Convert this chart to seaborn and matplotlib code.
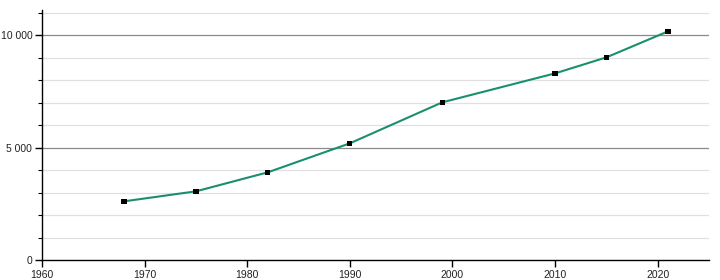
import matplotlib
matplotlib.use("Agg")
import matplotlib.pyplot as plt
import seaborn as sns
import pandas as pd
from matplotlib.ticker import MultipleLocator, FuncFormatter

years = [1968, 1975, 1982, 1990, 1999, 2010, 2015, 2021]
population = [2612, 3057, 3903, 5194, 7018, 8309, 9021, 10178]
x_ticks = [1960, 1970, 1980, 1990, 2000, 2010, 2020]
y_ticks = [0, 5000, 10000]

df = pd.DataFrame({"year": years, "population": population})

sns.set_theme(style="white")
plt.rcParams['font.family'] = ['Liberation Sans', 'DejaVu Sans']

fig = plt.figure(figsize=(7.2, 2.8), dpi=100)
ax = fig.add_axes([42/720, 20/280, (709-42)/720, 250/280])

for v in range(1000, 11001, 1000):
    if v % 5000 == 0:
        ax.axhline(v, color="#8a8a8a", lw=0.9, zorder=1)
    else:
        ax.axhline(v, color="#e0e0e0", lw=0.9, zorder=1)

sns.lineplot(data=df, x="year", y="population", ax=ax, color="#1a8f6f",
             lw=1.5, zorder=3)
sns.scatterplot(data=df, x="year", y="population", ax=ax, color="black",
                marker="s", s=14, edgecolor="none", zorder=4)

ax.set_xlim(1960, 2025)
ax.set_ylim(0, 11130)
ax.set_xticks(x_ticks)
ax.set_yticks(y_ticks)
ax.yaxis.set_minor_locator(MultipleLocator(1000))
ax.yaxis.set_major_formatter(FuncFormatter(lambda v, p: f"{int(v):,}".replace(",", " ")))
ax.set_xlabel("")
ax.set_ylabel("")

for s in ["top", "right"]:
    ax.spines[s].set_visible(False)
for s in ["left", "bottom"]:
    ax.spines[s].set_visible(True)
    ax.spines[s].set_color("black")
    ax.spines[s].set_linewidth(1.0)

ax.tick_params(axis="both", which="major", direction="out", length=5, width=1,
               color="black", labelsize=7.5, labelcolor="#222222", pad=2,
               bottom=True, left=True)
ax.tick_params(axis="y", which="minor", direction="out", length=3, width=0.8,
               color="black", left=True)

fig.savefig("out.png", dpi=100)
